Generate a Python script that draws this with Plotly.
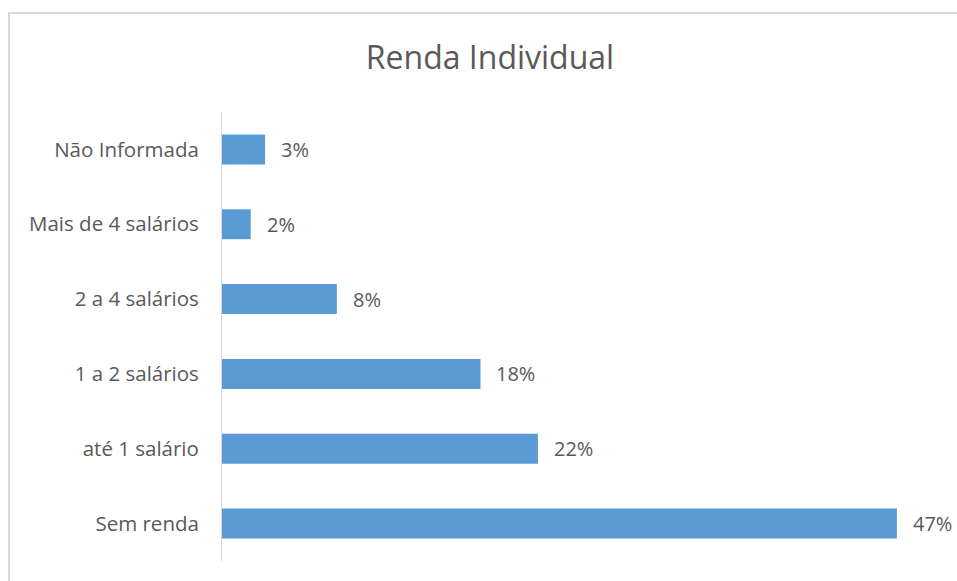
import plotly.graph_objects as go

categories = ["Sem renda", "até 1 salário", "1 a 2 salários", "2 a 4 salários", "Mais de 4 salários", "Não Informada"]
values = [47, 22, 18, 8, 2, 3]

TEXT = "#595959"
FONT = "Open Sans, Noto Sans, sans-serif"

fig = go.Figure(go.Bar(
    x=values, y=categories, orientation="h",
    marker=dict(color="#5b9bd5", line=dict(width=0)),
    width=0.4, hoverinfo="skip",
))

for v, c in zip(values, categories):
    fig.add_annotation(x=v, y=c, text=f"{v}%", showarrow=False, xanchor="left",
                       xshift=14, font=dict(size=20, color=TEXT, family=FONT))

L, R, T, B = 222, 17, 112, 20
W, H = 957, 581
pw, ph = W - L - R, H - T - B

def px(x):
    return (x - L) / pw

def py(y):
    return (H - B - y) / ph

fig.add_shape(type="rect", xref="paper", yref="paper",
              x0=px(9), x1=px(W + 20), y0=py(H + 20), y1=py(13),
              line=dict(color="#d9d9d9", width=2), layer="below")

fig.update_layout(
    width=W, height=H,
    margin=dict(l=L, r=R, t=T, b=B),
    paper_bgcolor="white", plot_bgcolor="white",
    showlegend=False,
    title=dict(text="Renda Individual", x=490 / W, xanchor="center", xref="container",
               y=1 - 58 / H, yanchor="middle", yref="container",
               font=dict(size=32, color=TEXT, family=FONT)),
    xaxis=dict(range=[0, 50], showgrid=False, showticklabels=False, zeroline=False,
               showline=False, fixedrange=True),
    yaxis=dict(categoryorder="array", categoryarray=categories, showgrid=False,
               showline=True, linecolor="#d9d9d9", linewidth=1,
               ticks="", ticklabelstandoff=18, fixedrange=True,
               tickfont=dict(size=20.5, color=TEXT, family=FONT)),
    font=dict(family=FONT, color=TEXT),
)

fig.write_html("out.html", config={"displayModeBar": False},
               post_script="document.body.style.margin='0';document.body.style.overflow='hidden';")
